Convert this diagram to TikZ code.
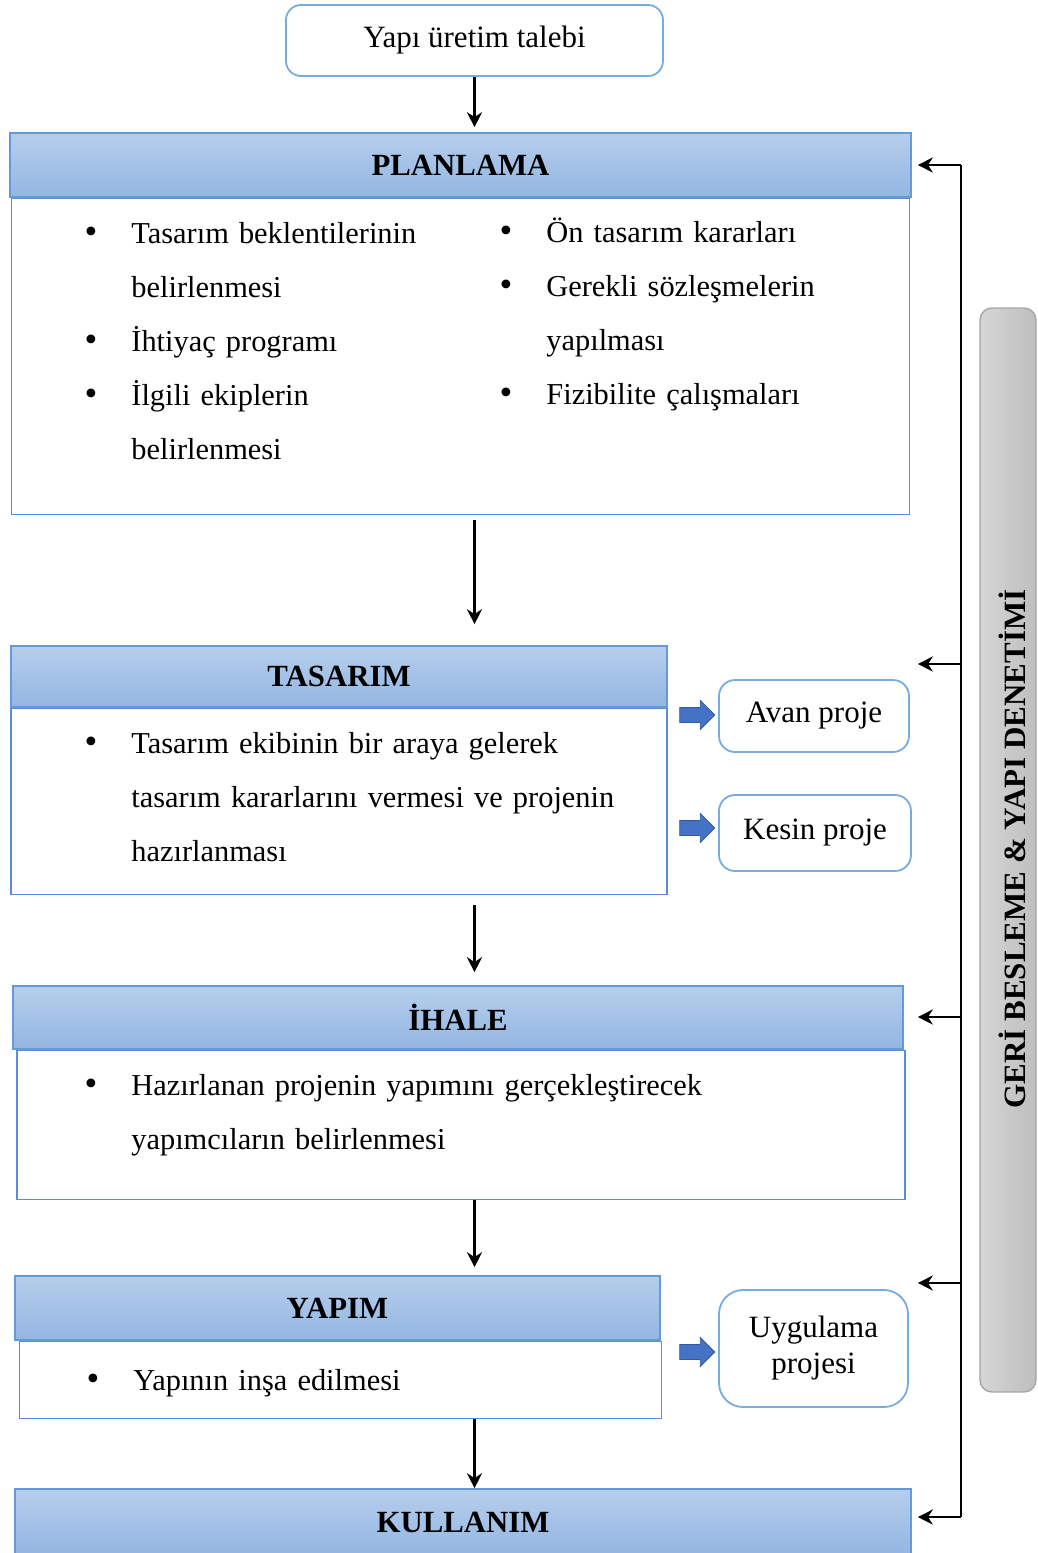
\documentclass[tikz,border=0pt]{standalone}
\usepackage{fontspec}
\setmainfont{Liberation Serif}
\usetikzlibrary{positioning,arrows.meta,shapes.arrows}
\definecolor{hdtop}{RGB}{182,206,236}
\definecolor{hdbot}{RGB}{147,182,226}
\definecolor{hdline}{RGB}{100,155,215}
\definecolor{bdline}{RGB}{90,140,220}
\definecolor{rbline}{RGB}{120,172,225}
\definecolor{arrblue}{RGB}{68,114,196}
\definecolor{barlight}{RGB}{214,214,214}
\definecolor{bardark}{RGB}{190,190,190}
\newcommand{\blt}{\leavevmode\llap{\scalebox{1.2}{\textbullet}\hspace{17pt}}}

\begin{document}
\begin{tikzpicture}[x=0.5pt,y=-0.5pt]
\tikzstyle{head}=[rectangle, draw=hdline, line width=0.8pt, top color=hdtop, bottom color=hdbot, font=\fontsize{15.4}{17}\selectfont\bfseries, minimum height=32pt, inner sep=0pt]
\tikzstyle{body}=[rectangle, draw=bdline, line width=0.8pt, fill=white, inner sep=0pt]
\tikzstyle{rbox}=[rectangle, rounded corners=8pt, draw=rbline, line width=0.9pt, fill=white, font=\fontsize{15.5}{18}\selectfont, align=center, inner sep=0pt]
\tikzstyle{txt}=[anchor=base west, inner sep=0pt, text width=340pt, align=left, font=\fontsize{15.2}{27}\selectfont]
\tikzstyle{flow}=[-{Stealth[length=7.5pt,width=7.5pt]}, line width=1.3pt]
\tikzstyle{blockarr}=[single arrow, fill=arrblue, draw=arrblue!80!black, minimum height=17.5pt, single arrow head extend=3.5pt, inner sep=3.5pt, line width=0.4pt]
\tikzstyle{gbar}=[rectangle, rounded corners=6pt, draw=gray!70, line width=0.7pt, left color=barlight, right color=bardark]
\useasboundingbox (0,0) rectangle (1038,1553);
  \node[rbox, rounded corners=7.5pt, minimum width=188.5pt, minimum height=35.5pt] (req) at (474.5,40.5) {Yapı üretim talebi};
% planlama
  \node[head, minimum width=450.5pt] (plh) at (460.5,165) {PLANLAMA};
  \node[body, minimum width=449pt, minimum height=158pt] (plb) [below=0pt of plh] {};
  \node[txt] (pl1) at (131,243) {\blt Tasarım beklentilerinin\\ belirlenmesi\\ \blt İhtiyaç programı\\ \blt İlgili ekiplerin\\ belirlenmesi};
  \node[txt, text width=170pt] (pl2) at (546,242) {\blt Ön tasarım kararları\\ \blt Gerekli sözleşmelerin\\ yapılması\\ \blt Fizibilite çalışmaları};
% tasarim
  \node[head, minimum width=328pt, minimum height=30.5pt] (tsh) at (339,676.5) {TASARIM};
  \node[body, minimum width=328pt, minimum height=93pt] (tsb) [below=0pt of tsh] {};
  \node[txt] (ts1) at (131,753) {\blt Tasarım ekibinin bir araya gelerek\\ tasarım kararlarını vermesi ve projenin\\ hazırlanması};
  \node[rbox, minimum width=95pt, minimum height=36pt] (avan) at (814,716) {Avan proje};
  \node[rbox, minimum width=96pt, minimum height=38pt] (kesin) at (815,833) {Kesin proje};
  \node[blockarr] (ba1) at (693.5,715) {};
  \node[blockarr] (ba2) at (693.5,828) {};
% ihale
  \node[head, minimum width=445pt, minimum height=31.5pt] (ihh) at (458,1017.5) {İHALE};
  \node[body, minimum width=444pt, minimum height=74.5pt] (ihb) [below=0pt of ihh, xshift=1.5pt] {};
  \node[txt] (ih1) at (131,1095) {\blt Hazırlanan projenin yapımını gerçekleştirecek\\ yapımcıların belirlenmesi};
% yapim
  \node[head, minimum width=322.5pt] (yph) at (337.5,1308) {YAPIM};
  \node[body, minimum width=321pt, minimum height=38.5pt] (ypb) [below=0pt of yph, xshift=1.5pt] {};
  \node[txt] (yp1) at (133,1390) {\blt Yapının inşa edilmesi};
  \node[rbox, rounded corners=12pt, minimum width=94.5pt, minimum height=58.5pt] (uyg) at (813.5,1348.5) {Uygulama\\ projesi};
  \node[blockarr] (ba3) at (693.5,1352) {};
% kullanim
  \node[head, minimum width=448pt, minimum height=33pt] (kuh) at (463,1522) {KULLANIM};
% geri besleme
  \node[gbar, minimum width=28pt, minimum height=542pt] (gb) at (1008,850) {};
  \node[rotate=90, font=\fontsize{15.5}{17}\selectfont\bfseries] (gbt) at (1012,849) {GERİ BESLEME \& YAPI DENETİMİ};
  \coordinate (fb1) at (961,165);
  \coordinate (fb2) at (961,664);
  \coordinate (fb3) at (961,1017);
  \coordinate (fb4) at (961,1283);
  \coordinate (fb5) at (961,1517);
  \draw[line width=1.3pt] (fb1) -- (fb5);
  \path (fb1) edge[flow, shorten >=3pt] (fb1 -| plh.east)
        (fb2) edge[flow, shorten >=3pt] (fb2 -| plh.east)
        (fb3) edge[flow, shorten >=3pt] (fb3 -| plh.east)
        (fb4) edge[flow, shorten >=3pt] (fb4 -| plh.east)
        (fb5) edge[flow, shorten >=3pt] (fb5 -| kuh.east);
% akis
  \path (req.south) edge[flow, shorten >=2.5pt] (req.south |- plh.north)
        (plb.south -| req.south) edge[flow, shorten <=2.5pt, shorten >=10.5pt] (tsh.north -| req.south)
        (tsb.south -| req.south) edge[flow, shorten <=5pt, shorten >=6.5pt] (ihh.north -| req.south)
        (ihb.south -| req.south) edge[flow, shorten >=4pt] (yph.north -| req.south)
        (ypb.south -| req.south) edge[flow] (kuh.north -| req.south);
\end{tikzpicture}
\end{document}
